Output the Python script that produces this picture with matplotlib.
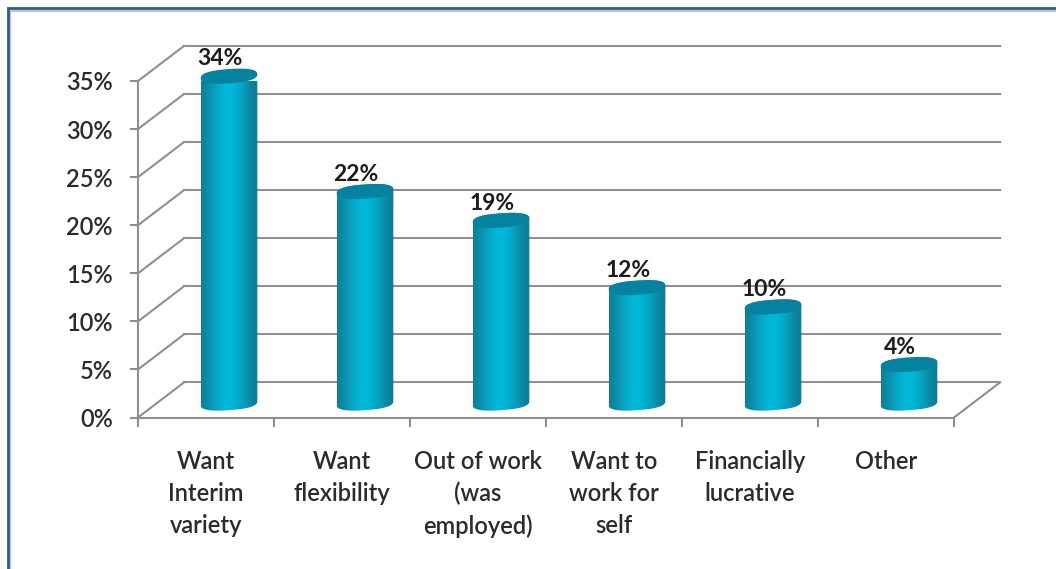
import numpy as np
import matplotlib
matplotlib.use('Agg')
from matplotlib import pyplot as plt
from matplotlib.colors import LinearSegmentedColormap
from matplotlib.patches import Polygon, Rectangle

categories = ['Want\nInterim\nvariety', 'Want\nflexibility', 'Out of work\n(was\nemployed)',
              'Want to\nwork for\nself', 'Financially\nlucrative', 'Other']
values = [34, 22, 19, 12, 10, 4]
y_ticks = [0, 5, 10, 15, 20, 25, 30, 35]

W, H = 1056, 569
GREY = '#8f8f8f'
TEXT = '#2b2b2b'

# depth of the fake 3D box, in data units
depth_x = 46 / 136
depth_y = 35 / 9.6
bar_lift = 1.5
half_w = 0.208
ell_h = 0.74
tilt = 0.2

plt.rcParams['font.family'] = ['Lato', 'DejaVu Sans']

fig = plt.figure(figsize=(W / 100, H / 100), dpi=100, facecolor='white')

# window frame around the chart
fig.add_artist(Rectangle((9.5 / W, -0.1), 1.0, 1.1 - 11 / H, transform=fig.transFigure,
                         fc='none', ec='#c4c4c4', lw=1.6))
fig.add_artist(Rectangle((7.5 / W, -0.1), 1.0, 1.1 - 8.5 / H, transform=fig.transFigure,
                         fc='none', ec='#2f5d9b', lw=2.0))

ax = fig.add_axes([138 / W, 1 - 417.5 / H, 816 / W, 336.5 / H])
ax.set_xlim(0, len(categories))
ax.set_ylim(0, 35)
ax.patch.set_visible(False)

# back wall, side wall and floor
for t in y_ticks:
    ax.plot([depth_x, len(categories) + depth_x], [t + depth_y, t + depth_y],
            color=GREY, lw=1.5, clip_on=False, zorder=1)
    ax.plot([0, depth_x], [t, t + depth_y], color=GREY, lw=1.5, clip_on=False, zorder=1)
ax.plot([len(categories), len(categories) + depth_x], [0, depth_y],
        color=GREY, lw=1.5, clip_on=False, zorder=1)

# cylinders
side_cmap = LinearSegmentedColormap.from_list(
    'side', ['#0d7f9a', '#0a90ad', '#05a8c8', '#00b8d8', '#00b6d6', '#06a2c0', '#0b8aa6', '#10768e'])
theta = np.linspace(0, 2 * np.pi, 181)
# rounder than a true ellipse, the cap edges are quite blunt
round_x = np.sign(np.cos(theta)) * np.abs(np.cos(theta)) ** 0.8
round_y = np.sign(np.sin(theta)) * np.abs(np.sin(theta)) ** 0.8
for i, v in enumerate(values):
    cx = i + 0.5 + depth_x / 2
    base = bar_lift
    top = v + bar_lift

    ex = cx + half_w * round_x
    low = base + ell_h * round_y + tilt * round_x
    high = top + ell_h * round_y + tilt * round_x

    # body outline: lower half of the base, upper half of the top
    lower = theta >= np.pi
    body_x = np.concatenate([ex[lower], ex[~lower]])
    body_y = np.concatenate([low[lower], high[~lower]])
    body = Polygon(np.column_stack([body_x, body_y]), closed=True, fc='none', ec='none',
                   transform=ax.transData, zorder=3)
    ax.add_patch(body)
    body.set_clip_on(False)

    grad = np.linspace(0, 1, 128).reshape(1, -1)
    im = ax.imshow(grad, cmap=side_cmap, aspect='auto', zorder=3,
                   extent=[cx - half_w, cx + half_w, base - 1, top + 1])
    im.set_clip_path(body)

    ax.add_patch(Polygon(np.column_stack([ex, high]), closed=True, fc='#05829f', ec='none',
                         zorder=4, clip_on=False))

    ax.annotate(f'{v}%', (i + 0.5, v + bar_lift), xytext=(10, 12.5), textcoords='offset points',
                ha='center', va='center', fontsize=16.5, fontweight='bold',
                color='#1c1c1c', zorder=5, annotation_clip=False)

ax.set_xlim(0, len(categories))
ax.set_ylim(0, 35)

# axes, ticks and labels
for s in ['top', 'right']:
    ax.spines[s].set_visible(False)
for s in ['left', 'bottom']:
    ax.spines[s].set_color(GREY)
    ax.spines[s].set_linewidth(1.5)
    ax.spines[s].set_zorder(2)

ax.set_yticks(y_ticks)
ax.set_yticklabels([f'{t}%' for t in y_ticks])
ax.set_xticks(np.arange(len(categories) + 1))
ax.set_xticklabels([])
ax.set_xticks(np.arange(len(categories)) + 0.5, minor=True)
ax.set_xticklabels(categories, minor=True, linespacing=1.46)
ax.tick_params(axis='y', length=6, width=1.5, color=GREY, labelsize=17, labelcolor=TEXT, pad=12)
ax.tick_params(axis='x', which='major', length=6.5, width=1.5, color=GREY)
ax.tick_params(axis='x', which='minor', length=0, labelsize=17, labelcolor=TEXT, pad=23.5)

# category and axis text is a bit heavier than the regular weight
for lab in ax.get_xticklabels(minor=True) + ax.get_yticklabels():
    lab.set_fontweight('semibold')

fig.savefig('out.png', dpi=100)
